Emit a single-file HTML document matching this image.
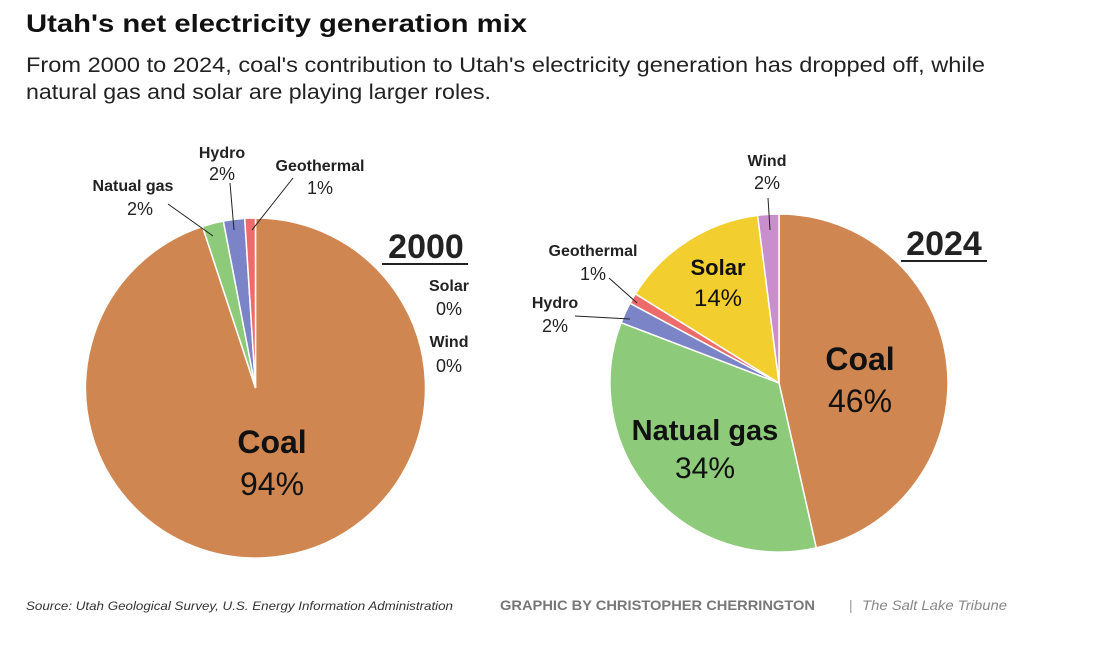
<!DOCTYPE html>
<html><head><meta charset="utf-8"><style>
body{margin:0;background:#fff;width:1116px;height:657px;overflow:hidden;font-family:"Liberation Sans","DejaVu Sans",sans-serif;}
svg{position:absolute;left:0;top:0}
</style></head><body>
<svg id="c" width="1116" height="657">
<text x="26" y="32" font-size="25" font-weight="bold" fill="#111" textLength="501" lengthAdjust="spacingAndGlyphs">Utah's net electricity generation mix</text>
<text x="26" y="72" font-size="21" fill="#222" textLength="959" lengthAdjust="spacingAndGlyphs">From 2000 to 2024, coal's contribution to Utah's electricity generation has dropped off, while</text>
<text x="26" y="99" font-size="21" fill="#222" textLength="465" lengthAdjust="spacingAndGlyphs">natural gas and solar are playing larger roles.</text>
<g id="p1"></g><g id="p2"></g>
<g font-size="16" fill="#222" text-anchor="middle">
<text x="426" y="258" font-size="34" font-weight="bold">2000</text>
<line x1="382" y1="264" x2="468" y2="264" stroke="#222" stroke-width="2"/>
<text x="944" y="255" font-size="34" font-weight="bold">2024</text>
<line x1="901" y1="261" x2="987" y2="261" stroke="#222" stroke-width="2"/>
<g>
<text x="133" y="191" font-weight="bold">Natual gas</text><text x="140" y="215" font-size="18">2%</text>
<text x="222" y="158" font-weight="bold">Hydro</text><text x="222" y="180" font-size="18">2%</text>
<text x="320" y="171" font-weight="bold">Geothermal</text><text x="320" y="194" font-size="18">1%</text>
<text x="449" y="291" font-weight="bold">Solar</text><text x="449" y="315" font-size="18">0%</text>
<text x="449" y="347" font-weight="bold">Wind</text><text x="449" y="372" font-size="18">0%</text>
<text x="272" y="453" font-size="32" font-weight="bold" fill="#111">Coal</text><text x="272" y="495" font-size="32" fill="#111">94%</text>
<line x1="168" y1="204" x2="213" y2="236" stroke="#222"/>
<line x1="230" y1="183" x2="234" y2="230" stroke="#222"/>
<line x1="293" y1="178" x2="252" y2="230" stroke="#222"/>
</g>
<g>
<text x="767" y="166" font-weight="bold">Wind</text><text x="767" y="189" font-size="18">2%</text>
<line x1="768" y1="198" x2="770" y2="230" stroke="#222"/>
<text x="593" y="256" font-weight="bold">Geothermal</text><text x="593" y="280" font-size="18">1%</text>
<line x1="609" y1="278" x2="637" y2="303" stroke="#222"/>
<text x="555" y="308" font-weight="bold">Hydro</text><text x="555" y="332" font-size="18">2%</text>
<line x1="575" y1="316" x2="630" y2="319" stroke="#222"/>
<text x="718" y="275" font-size="22" font-weight="bold" fill="#111">Solar</text><text x="718" y="306" font-size="24" fill="#111">14%</text>
<text x="860" y="370" font-size="32" font-weight="bold" fill="#111">Coal</text><text x="860" y="412" font-size="32" fill="#111">46%</text>
<text x="705" y="440" font-size="29" font-weight="bold" fill="#111">Natual gas</text><text x="705" y="478" font-size="30" fill="#111">34%</text>
</g>
</g>
<text x="26" y="610" font-size="12" font-style="italic" fill="#333" textLength="427" lengthAdjust="spacingAndGlyphs">Source: Utah Geological Survey, U.S. Energy Information Administration</text>
<text x="500" y="610" font-size="14" font-weight="bold" fill="#777" textLength="315" lengthAdjust="spacingAndGlyphs">GRAPHIC BY CHRISTOPHER CHERRINGTON</text>
<text x="849" y="610" font-size="14" fill="#999">|</text>
<text x="862" y="610" font-size="14" font-style="italic" fill="#888" textLength="145" lengthAdjust="spacingAndGlyphs">The Salt Lake Tribune</text>
</svg>
<script>
const cats2000=["Coal","Natural gas","Hydro","Geothermal"];
const vals2000=[94,2,2,1];
const cats2024=["Coal","Natural gas","Hydro","Geothermal","Solar","Wind"];
const vals2024=[46,34,2,1,14,2];
const colors={"Coal":"#cf8651","Natural gas":"#8dcb7b","Hydro":"#7b84c6","Geothermal":"#ee6b6b","Solar":"#f2cf2f","Wind":"#c98fcc"};
function pie(gid,cats,vals,cx,cy,r,name){
  const g=document.getElementById(gid);
  const tot=vals.reduce((a,b)=>a+b,0);
  let a=0;
  cats.forEach((c,i)=>{
    const a0=a,a1=a+vals[i]/tot*2*Math.PI;a=a1;
    const x0=cx+r*Math.sin(a0),y0=cy-r*Math.cos(a0),x1=cx+r*Math.sin(a1),y1=cy-r*Math.cos(a1);
    const p=document.createElementNS("http://www.w3.org/2000/svg","path");
    p.setAttribute("d",`M${cx},${cy}L${x0},${y0}A${r},${r} 0 ${a1-a0>Math.PI?1:0} 1 ${x1},${y1}Z`);
    p.setAttribute("fill",colors[c]);p.setAttribute("stroke","#fff");p.setAttribute("stroke-width","1.5");
    
    
    g.appendChild(p);
  });
}
pie("p1",cats2000,vals2000,255.5,388,170,"slice-2000");
pie("p2",cats2024,vals2024,779,383,169,"slice-2024");
</script>
</body></html>
